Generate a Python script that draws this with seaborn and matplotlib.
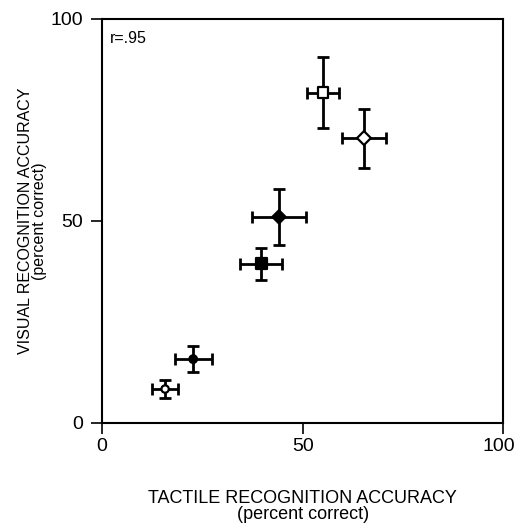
import matplotlib
matplotlib.use("Agg")
import matplotlib.pyplot as plt
import matplotlib.transforms as mtransforms
import seaborn as sns
import pandas as pd

# Tactile vs visual recognition accuracy (percent correct) per condition
conditions = ["A", "B", "C", "D", "E", "F"]
tactile = [15.7, 22.7, 39.7, 44.1, 55.1, 65.3]
visual = [8.4, 15.8, 39.4, 51.0, 81.7, 70.5]
tactile_err = [3.2, 4.6, 5.2, 6.7, 3.9, 5.6]
visual_err = [2.2, 3.3, 4.0, 6.9, 8.8, 7.3]
marker_shapes = ["o", "o", "s", "D", "s", "D"]
marker_fill = ["white", "black", "black", "black", "white", "white"]
marker_sizes = [28, 30, 60, 45, 60, 50]
x_ticks = [0, 50, 100]
y_ticks = [0, 50, 100]
r_label = "r=.95"

sns.set_style("ticks")
plt.rcParams["font.family"] = ["Liberation Sans", "DejaVu Sans"]
plt.rcParams["text.color"] = "black"
plt.rcParams["axes.labelcolor"] = "black"

df = pd.DataFrame({"condition": conditions, "tactile": tactile, "visual": visual})

fig = plt.figure(figsize=(5.16, 5.29), dpi=100)
ax = fig.add_axes([0.198, 0.2004, 0.777, 0.764])

ax.errorbar(tactile, visual, xerr=tactile_err, yerr=visual_err, fmt="none",
            ecolor="black", elinewidth=2.0, capsize=4, capthick=2.0, zorder=2)

sns.scatterplot(data=df, x="tactile", y="visual", style="condition",
                markers=dict(zip(conditions, marker_shapes)),
                hue="condition", palette=dict(zip(conditions, marker_fill)),
                size="condition", sizes=dict(zip(conditions, marker_sizes)),
                edgecolor="black", linewidth=1.6, legend=False, ax=ax, zorder=3)

ax.set_xlim(0, 100)
ax.set_ylim(0, 100)
ax.set_xticks(x_ticks)
ax.set_yticks(y_ticks)
ax.tick_params(axis="both", direction="out", length=8, width=1.2,
               labelsize=14, colors="black")
ax.tick_params(axis="y", pad=6)
ax.tick_params(axis="x", pad=3)
for s in ax.spines.values():
    s.set_linewidth(1.5)
    s.set_color("black")

# keep the right-most x tick label inside the figure
last = ax.get_xticklabels()[-1]
last.set_transform(last.get_transform() +
                   mtransforms.ScaledTranslation(-4 / 100, 0, fig.dpi_scale_trans))

ax.set_xlabel("TACTILE RECOGNITION ACCURACY\n(percent correct)",
              fontsize=13, labelpad=25, linespacing=0.95, color="black")
ax.set_ylabel("VISUAL RECOGNITION ACCURACY\n(percent correct)",
              fontsize=11.5, labelpad=2, linespacing=0.95, color="black")

ax.text(0.02, 0.97, r_label, transform=ax.transAxes, fontsize=11.5,
        va="top", ha="left", color="black")

fig.savefig("out.png", dpi=100)
